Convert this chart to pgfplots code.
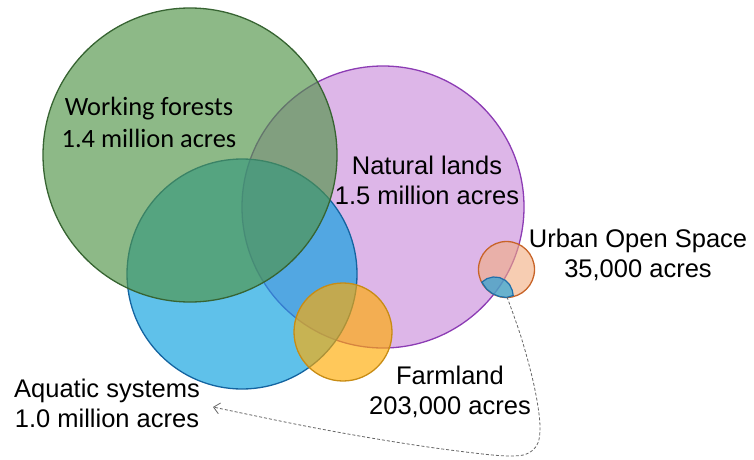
\documentclass[border=0pt]{standalone}
\usepackage{pgfplots}
\pgfplotsset{compat=1.18}
\usepackage{pgfplotstable}
\usetikzlibrary{arrows.meta}
\usepackage{fontspec}
\newfontfamily\arial{Liberation Sans}
\newfontfamily\calibri{Carlito}
\definecolor{natfill}{RGB}{221,182,232}
\definecolor{natedge}{RGB}{140,60,180}
\definecolor{aqfill}{RGB}{9,160,223}
\definecolor{aqedge}{RGB}{20,100,160}
\definecolor{wffill}{RGB}{80,148,71}
\definecolor{wfedge}{RGB}{55,100,50}
\definecolor{fmfill}{RGB}{255,171,2}
\definecolor{fmedge}{RGB}{200,140,20}
\definecolor{urfill}{RGB}{242,172,127}
\definecolor{uredge}{RGB}{200,100,40}
\definecolor{lensedge}{RGB}{30,110,170}

% x, y in picture units (y downward), r = radius
\pgfplotstableread{
x y r
383 207 141
}\natural
\pgfplotstableread{
x y r
242 274 115
}\aquatic
\pgfplotstableread{
x y r
190 155 147
}\working
\pgfplotstableread{
x y r
343 332 49
}\farmland
\pgfplotstableread{
x y r
506.5 269.5 28
}\urban
\pgfplotstableread{
x y
482.0 282.0
487.0 278.6
493.1 277.0
499.4 277.5
505.1 280.2
509.6 284.7
512.3 290.4
513.2 295.5
506.5 297.5
499.2 296.5
492.5 293.7
486.7 289.3
481.8 282.2
}\lens
\pgfplotstableread{
x y
507 297
522 340
535 390
540 430
533 450
510 456
450 450
377 439
300 425
213 407
}\arrowpath

\pgfplotsset{
  bubble/.style n args={3}{
    scatter, only marks, mark=*,
    scatter/use mapped color={draw=#1, fill=#2, fill opacity=#3, line width=1.3pt},
    visualization depends on={\thisrow{r}\as\rr},
    scatter/@pre marker code/.append style={/tikz/mark size=\rr},
  },
}

\begin{document}
\begin{tikzpicture}
\begin{axis}[
  x=1pt, y=1pt, scale only axis,
  xmin=0, xmax=754, ymin=0, ymax=459,
  y dir=reverse,
  axis line style={draw=none},
  xtick=\empty, ytick=\empty,
  clip=false, clip marker paths=true,
  set layers=standard,
]
\addplot[bubble={natedge}{natfill}{1}] table[x=x,y=y] {\natural};
\addplot[bubble={aqedge}{aqfill}{0.65}] table[x=x,y=y] {\aquatic};
\addplot[bubble={wfedge}{wffill}{0.65}] table[x=x,y=y] {\working};
\addplot[bubble={fmedge}{fmfill}{0.65}] table[x=x,y=y] {\farmland};
\addplot[bubble={uredge}{urfill}{0.6}] table[x=x,y=y] {\urban};
\addplot[draw=lensedge, fill=aqfill, fill opacity=0.6, line width=1.2pt, mark=none] table[x=x,y=y] {\lens} -- cycle;
\addplot[black!60, line width=0.8pt, dash pattern=on 3pt off 2pt, smooth, tension=0.6, mark=none, -{Straight Barb[length=6pt,width=11pt,line width=0.8pt]}] table[x=x,y=y] {\arrowpath};

\begin{pgfonlayer}{axis foreground}
\node[font=\calibri\fontsize{26.4}{32}\selectfont, align=center] at (axis cs:149,122) {Working forests\\1.4 million acres};
\node[font=\arial\fontsize{25.5}{30}\selectfont, align=center] at (axis cs:427,180) {Natural lands\\1.5 million acres};
\node[font=\arial\fontsize{25.5}{30}\selectfont, align=center] at (axis cs:638,255) {Urban Open Space\\35,000 acres};
\node[font=\arial\fontsize{25.5}{30}\selectfont, align=center] at (axis cs:450,392) {Farmland\\203,000 acres};
\node[font=\arial\fontsize{25.5}{30}\selectfont, align=center] at (axis cs:107,403) {Aquatic systems\\1.0 million acres};
\end{pgfonlayer}
\end{axis}
\end{tikzpicture}
\end{document}
